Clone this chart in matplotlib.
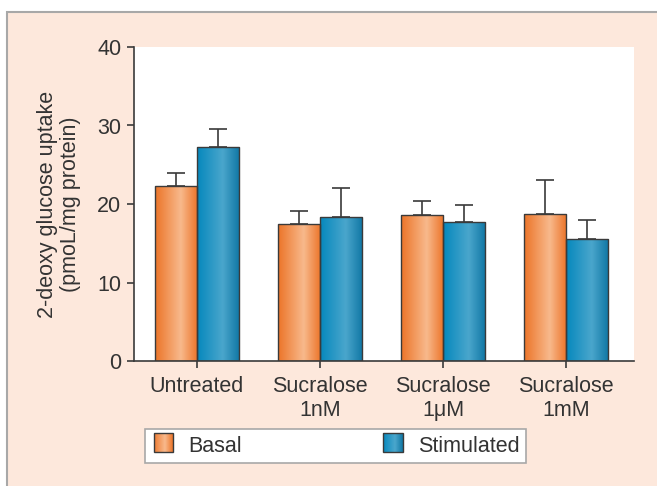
import numpy as np
import matplotlib.pyplot as plt
from matplotlib.patches import Rectangle
from matplotlib.colors import LinearSegmentedColormap
from matplotlib.legend_handler import HandlerBase

plt.rcParams['font.family'] = ['Liberation Sans', 'DejaVu Sans']

categories = ["Untreated", "Sucralose\n1nM", "Sucralose\n1\u03bcM", "Sucralose\n1mM"]
basal = [22.3, 17.5, 18.6, 18.7]
basal_err = [1.6, 1.6, 1.8, 4.4]
stimulated = [27.2, 18.3, 17.7, 15.5]
stimulated_err = [2.4, 3.7, 2.2, 2.5]
series_labels = ["Basal", "Stimulated"]

orange = LinearSegmentedColormap.from_list(
    "og", [(0, "#ec7428"), (0.6, "#f8b98c"), (1, "#ec7428")])
blue = LinearSegmentedColormap.from_list(
    "bl", [(0, "#0588bd"), (0.6, "#4aa6cc"), (1, "#0f76a4")])

dark = "#3a3a3a"
bg = "#fde8dc"
fs = 15.5

fig = plt.figure(figsize=(6.57, 4.86), dpi=100, facecolor="white")
fig.patches.append(Rectangle((7 / 657, -0.1), 1.2, (486 - 12) / 486 + 0.1,
                             transform=fig.transFigure, facecolor=bg,
                             edgecolor="#a8a8a8", linewidth=1.5, zorder=-10))

ax = fig.add_axes([134 / 657, 125 / 486, 500 / 657, 314 / 486])
ax.set_facecolor("white")

x = np.arange(len(categories))
w = 0.345
grad = np.linspace(0, 1, 256).reshape(1, -1)


def gradient_bars(xs, vals, errs, cmap):
    bars = ax.bar(xs, vals, width=w, facecolor="none", edgecolor=dark,
                  linewidth=1.0, zorder=3)
    for b in bars:
        x0, y0 = b.get_x(), b.get_y()
        im = ax.imshow(grad, cmap=cmap, aspect="auto", zorder=2,
                       extent=(x0, x0 + b.get_width(), y0, y0 + b.get_height()))
        im.set_clip_path(b)
    ax.errorbar(xs, vals, yerr=[np.zeros(len(vals)), errs], fmt="none",
                ecolor=dark, elinewidth=1.2, capsize=6.5, capthick=1.2, zorder=1)


gradient_bars(x - w / 2, basal, basal_err, orange)
gradient_bars(x + w / 2, stimulated, stimulated_err, blue)

ax.set_xlim(-0.512, 3.553)
ax.set_ylim(0, 40)
ax.set_yticks([0, 10, 20, 30, 40])
ax.set_xticks(x)
ax.set_xticklabels(categories)
for s in ["top", "right"]:
    ax.spines[s].set_visible(False)
for s in ["left", "bottom"]:
    ax.spines[s].set_color(dark)
    ax.spines[s].set_linewidth(1.2)
ax.tick_params(colors=dark, labelcolor="#333333", labelsize=fs, length=5,
               width=1.2, pad=4)
ax.tick_params(axis="x", pad=6)
ax.set_ylabel("2-deoxy glucose uptake\n(pmoL/mg protein)", fontsize=fs,
              color="#333333", labelpad=12, linespacing=1.1)


class GradHandler(HandlerBase):
    def __init__(self, cmap):
        super().__init__()
        self.cmap = cmap

    def create_artists(self, legend, orig_handle, xdescent, ydescent, width,
                       height, fontsize, trans):
        s = height * 1.3
        x0 = -xdescent + (width - s) / 2
        y0 = -ydescent + (height - s) / 2 + 1
        n = 20
        arts = []
        for i in range(n):
            arts.append(Rectangle((x0 + i * s / n, y0), s / n + 0.2, s,
                                  facecolor=self.cmap((i + 0.5) / n),
                                  edgecolor="none", transform=trans))
        arts.append(Rectangle((x0, y0), s, s, facecolor="none",
                              edgecolor=dark, linewidth=1.0, transform=trans))
        return arts


h1 = Rectangle((0, 0), 1, 1)
h2 = Rectangle((0, 0), 1, 1)
leg = fig.legend([h1, h2], series_labels, ncol=2, loc="lower left",
                 bbox_to_anchor=(145 / 657, 23 / 486, 381 / 657, 35 / 486),
                 mode="expand", borderaxespad=0, fontsize=fs,
                 handler_map={h1: GradHandler(orange), h2: GradHandler(blue)},
                 handlelength=1.1, handletextpad=0.6, fancybox=False,
                 framealpha=1, edgecolor="#a8a8a8", borderpad=0.3)
for t in leg.get_texts():
    t.set_color("#333333")
leg.get_frame().set_linewidth(1.2)

fig.savefig("out.png", dpi=100, facecolor="white")
